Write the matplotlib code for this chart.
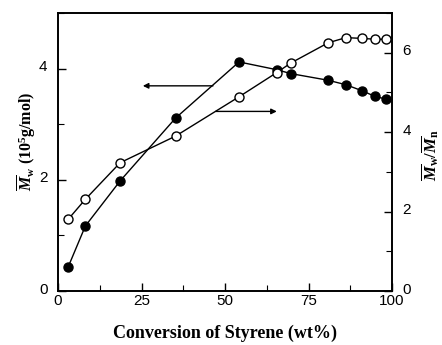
import matplotlib
matplotlib.use("Agg")
import matplotlib.pyplot as plt
import matplotlib.transforms as mtransforms
from matplotlib.ticker import MultipleLocator

plt.rcParams['mathtext.fontset'] = 'custom'
plt.rcParams['mathtext.rm'] = 'Liberation Serif:bold'
plt.rcParams['mathtext.it'] = 'Liberation Serif:italic:bold'
plt.rcParams['mathtext.bf'] = 'Liberation Serif:bold'

conversion = [3.1, 8.2, 18.6, 35.2, 54.2, 65.5, 69.7, 80.9, 86.2, 91.1, 94.9, 98.3]
mw = [0.44, 1.17, 1.98, 3.11, 4.12, 3.98, 3.91, 3.79, 3.71, 3.60, 3.50, 3.45]
pdi = [1.81, 2.31, 3.23, 3.90, 4.89, 5.50, 5.74, 6.25, 6.38, 6.36, 6.34, 6.34]

xticks = [0, 25, 50, 75, 100]
left_ticks = [0, 2, 4]
right_ticks = [0, 2, 4, 6]

fig = plt.figure(figsize=(4.42, 3.45), dpi=100)
ax = fig.add_axes([58/442, 1 - 291/345, (392-58)/442, (291-13)/345])
ax2 = ax.twinx()

ax.plot(conversion, mw, '-o', color='black', lw=1.0, ms=6.5,
        mfc='black', mec='black', zorder=3)
ax2.plot(conversion, pdi, '-o', color='black', lw=1.0, ms=6.5,
         mfc='white', mec='black', mew=1.0, zorder=3)

ax.set_xlim(0, 100)
ax.set_ylim(0, 5)
ax2.set_ylim(0, 7)

tickfont = dict(family='Liberation Sans', size=11)
ax.set_xticks(xticks)
ax.set_xticklabels([str(t) for t in xticks], **tickfont)
ax.set_yticks(left_ticks)
ax.set_yticklabels([str(t) for t in left_ticks], **tickfont)
ax2.set_yticks(right_ticks)
ax2.set_yticklabels([str(t) for t in right_ticks], **tickfont)
ax.xaxis.set_minor_locator(MultipleLocator(12.5))
ax.yaxis.set_minor_locator(MultipleLocator(1))
ax2.yaxis.set_minor_locator(MultipleLocator(1))

ax.tick_params(axis='both', which='both', direction='in', top=False, right=False)
ax.tick_params(which='major', length=6, width=1)
ax.tick_params(which='minor', length=4, width=0.8)
ax.tick_params(axis='x', which='major', pad=2)
ax.tick_params(axis='y', which='major', pad=7.5)
ax2.tick_params(axis='y', which='both', direction='in')
ax2.tick_params(which='major', length=6, width=1, pad=7.5)
ax2.tick_params(which='minor', length=4, width=0.8)

# y tick labels sit slightly above their ticks in the reference
shift = mtransforms.ScaledTranslation(0, 3/100, fig.dpi_scale_trans)
for lab in ax.get_yticklabels() + ax2.get_yticklabels():
    lab.set_transform(lab.get_transform() + shift)

for a in (ax, ax2):
    for s in a.spines.values():
        s.set_linewidth(1.2)

ax.set_xlabel('Conversion of Styrene (wt%)', family='Liberation Serif',
              fontweight='bold', fontsize=13, labelpad=12)
ax.set_ylabel(r'$\overline{M}_\mathbf{w}$ (10$^5$g/mol)', family='Liberation Serif',
              fontweight='bold', fontsize=11.5)
ax.yaxis.set_label_coords(-0.06, 0.54)
ax2.set_ylabel(r'$\overline{M}_\mathbf{w}/\overline{M}_\mathbf{n}$', family='Liberation Serif',
               fontweight='bold', fontsize=12)
ax2.yaxis.set_label_coords(1.083, 0.49)

ax.annotate('', xy=(25.4, 3.69), xytext=(46.4, 3.69),
            arrowprops=dict(arrowstyle='-|>', color='black', lw=1.0,
                            mutation_scale=8, shrinkA=0, shrinkB=0))
ax.annotate('', xy=(65.5, 3.23), xytext=(47.2, 3.23),
            arrowprops=dict(arrowstyle='-|>', color='black', lw=1.0,
                            mutation_scale=8, shrinkA=0, shrinkB=0))

fig.savefig('out.png', dpi=100)
